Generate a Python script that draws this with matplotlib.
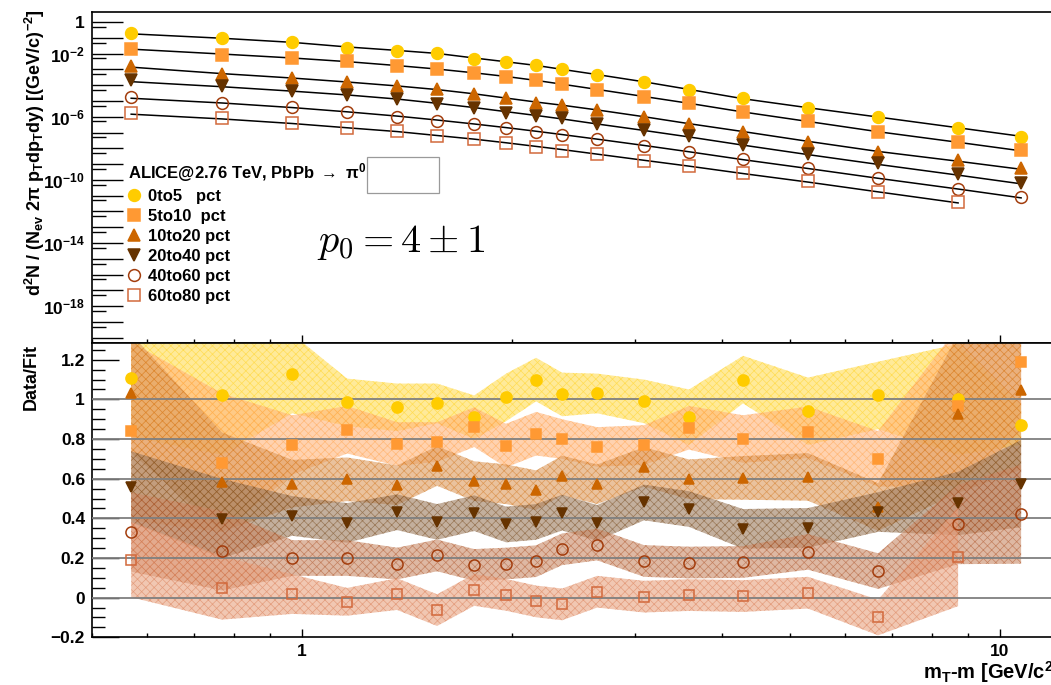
import numpy as np
import matplotlib
matplotlib.use('Agg')
import matplotlib.pyplot as plt
from matplotlib.patches import Rectangle

plt.rcParams['font.family'] = ['Liberation Sans', 'DejaVu Sans']
plt.rcParams['font.weight'] = 'bold'
plt.rcParams['mathtext.fontset'] = 'custom'
plt.rcParams['mathtext.rm'] = 'Liberation Sans:bold'
plt.rcParams['mathtext.it'] = 'Liberation Sans:bold'
plt.rcParams['mathtext.bf'] = 'Liberation Sans:bold'
plt.rcParams['hatch.linewidth'] = 0.5

W, H = 1051, 685

# m_T - m bin centres [GeV/c^2]
mt = [0.569, 0.768, 0.968, 1.160, 1.368, 1.561, 1.764, 1.960, 2.164, 2.358,
      2.647, 3.090, 3.584, 4.283, 5.307, 6.688, 8.708, 10.72]

# spectra, log10 of d2N/(Nev 2pi pT dpT dy)
spec_0to5 = [-0.72, -1.03, -1.25, -1.63, -1.82, -1.98, -2.32, -2.53, -2.72, -3.00,
             -3.33, -3.80, -4.30, -4.83, -5.46, -6.01, -6.71, -7.28]
spec_5to10 = [-1.73, -2.09, -2.30, -2.47, -2.78, -3.00, -3.21, -3.48, -3.69, -3.94,
              -4.28, -4.73, -5.13, -5.70, -6.28, -6.98, -7.61, -8.12]
spec_10to20 = [-2.78, -3.31, -3.56, -3.78, -4.05, -4.26, -4.58, -4.83, -5.11, -5.25,
               -5.57, -5.99, -6.46, -6.94, -7.57, -8.25, -8.73, -9.26]
spec_20to40 = [-3.67, -4.05, -4.35, -4.62, -4.85, -5.21, -5.42, -5.74, -5.95, -6.08,
               -6.46, -6.84, -7.23, -7.78, -8.37, -8.94, -9.64, -10.17]
spec_40to60 = [-4.77, -5.11, -5.40, -5.72, -5.99, -6.25, -6.48, -6.71, -6.94, -7.13,
               -7.41, -7.83, -8.23, -8.69, -9.22, -9.89, -10.55, -11.09]
spec_60to80 = [-5.78, -6.06, -6.41, -6.73, -6.92, -7.22, -7.42, -7.68, -7.91, -8.14,
               -8.37, -8.78, -9.09, -9.56, -10.08, -10.78, -11.41]

# fit curves (log10)
fit_0to5 = [-0.75, -1.03, -1.29, -1.58, -1.80, -1.99, -2.28, -2.52, -2.75, -3.00,
            -3.33, -3.79, -4.27, -4.86, -5.43, -6.02, -6.70, -7.24]
fit_5to10 = [-1.72, -2.03, -2.28, -2.51, -2.76, -2.98, -3.22, -3.45, -3.70, -3.94,
             -4.27, -4.72, -5.15, -5.70, -6.30, -6.95, -7.62, -8.16]
fit_10to20 = [-2.86, -3.27, -3.55, -3.80, -4.05, -4.28, -4.55, -4.82, -5.07, -5.27,
              -5.57, -6.00, -6.44, -6.94, -7.56, -8.20, -8.82, -9.33]
fit_20to40 = [-3.78, -4.10, -4.38, -4.62, -4.88, -5.15, -5.42, -5.68, -5.92, -6.14,
              -6.46, -6.87, -7.28, -7.80, -8.40, -9.02, -9.70, -10.25]
fit_40to60 = [-4.83, -5.13, -5.42, -5.69, -5.96, -6.21, -6.46, -6.69, -6.92, -7.13,
              -7.42, -7.82, -8.22, -8.72, -9.28, -9.90, -10.58, -11.14]
fit_60to80 = [-5.84, -6.14, -6.43, -6.70, -6.94, -7.19, -7.42, -7.65, -7.88, -8.08,
              -8.37, -8.76, -9.13, -9.60, -10.14, -10.76, -11.46]

# Data/Fit (shifted down by 0.2 per class)
ratio_0to5 = [1.11, 1.02, 1.13, 0.985, 0.96, 0.98, 0.91, 1.01, 1.10, 1.025,
              1.03, 0.99, 0.91, 1.10, 0.94, 1.02, 1.00, 0.87]
ratio_5to10 = [0.84, 0.68, 0.77, 0.847, 0.775, 0.785, 0.86, 0.767, 0.827, 0.80,
               0.76, 0.77, 0.857, 0.80, 0.834, 0.70, 0.965, 1.19]
ratio_10to20 = [1.03, 0.583, 0.575, 0.597, 0.567, 0.664, 0.588, 0.572, 0.542, 0.616,
                0.572, 0.659, 0.597, 0.604, 0.609, 0.457, 0.928, 1.045]
ratio_20to40 = [0.558, 0.399, 0.412, 0.377, 0.431, 0.382, 0.426, 0.369, 0.382, 0.429,
                0.377, 0.48, 0.447, 0.347, 0.352, 0.432, 0.475, 0.575]
ratio_40to60 = [0.331, 0.236, 0.20, 0.20, 0.172, 0.213, 0.165, 0.172, 0.184, 0.244,
                0.268, 0.185, 0.177, 0.18, 0.231, 0.134, 0.369, 0.421]
ratio_60to80 = [0.192, 0.049, 0.018, -0.021, 0.018, -0.063, 0.039, 0.014, -0.019, -0.034,
                0.03, 0.005, 0.013, 0.008, 0.025, -0.10, 0.207]

err_0to5 = [0.30, 0.30, 0.20, 0.12, 0.12, 0.10, 0.11, 0.12, 0.11, 0.11,
            0.10, 0.11, 0.14, 0.12, 0.17, 0.17, 0.28, 0.10]
err_5to10 = [0.45, 0.35, 0.15, 0.12, 0.11, 0.10, 0.10, 0.11, 0.11, 0.10,
             0.10, 0.10, 0.11, 0.12, 0.13, 0.14, 0.40, 0.35]
err_10to20 = [0.30, 0.25, 0.12, 0.11, 0.10, 0.10, 0.10, 0.10, 0.10, 0.10,
              0.10, 0.10, 0.10, 0.11, 0.12, 0.12, 0.40, 0.40]
err_20to40 = [0.18, 0.20, 0.10, 0.10, 0.09, 0.09, 0.09, 0.09, 0.09, 0.09,
              0.09, 0.09, 0.09, 0.10, 0.10, 0.10, 0.16, 0.22]
err_40to60 = [0.20, 0.20, 0.09, 0.09, 0.08, 0.08, 0.08, 0.08, 0.08, 0.08,
              0.08, 0.08, 0.08, 0.08, 0.09, 0.09, 0.20, 0.25]
err_60to80 = [0.19, 0.16, 0.10, 0.07, 0.08, 0.08, 0.08, 0.08, 0.08, 0.08,
              0.08, 0.08, 0.08, 0.08, 0.08, 0.09, 0.25]

labels = ['0to5   pct', '5to10  pct', '10to20 pct', '20to40 pct', '40to60 pct', '60to80 pct']
colors = ['#FFCC00', '#FF9933', '#CC6600', '#663300', '#A33D0D', '#D2693C']
band_colors = ['#FFDD55', '#FFB57A', '#DD9A5C', '#9C7A5C', '#C98A66', '#E8A280']
markers = ['o', 's', '^', 'v', 'o', 's']
filled = [True, True, True, True, False, False]
ref_levels = [0.0, 0.2, 0.4, 0.6, 0.8, 1.0]

specs = [spec_0to5, spec_5to10, spec_10to20, spec_20to40, spec_40to60, spec_60to80]
fits = [fit_0to5, fit_5to10, fit_10to20, fit_20to40, fit_40to60, fit_60to80]
ratios = [ratio_0to5, ratio_5to10, ratio_10to20, ratio_20to40, ratio_40to60, ratio_60to80]
errs = [err_0to5, err_5to10, err_10to20, err_20to40, err_40to60, err_60to80]

fig = plt.figure(figsize=(W / 100, H / 100), dpi=100)
x_right = 1055.3
ax1 = fig.add_axes([92 / W, 1 - 342.5 / H, (x_right - 92) / W, (342.5 - 11.7) / H])
ax2 = fig.add_axes([92 / W, 1 - 637.3 / H, (x_right - 92) / W, (637.3 - 342.5) / H])

handles = []
for i in range(6):
    n = len(specs[i])
    x = np.array(mt[:n])
    y = 10.0 ** np.array(specs[i])
    yf = 10.0 ** np.array(fits[i])
    r = np.array(ratios[i])
    e = np.array(errs[i])
    c = colors[i]
    mfc = c if filled[i] else 'none'
    ms = 8.5 if markers[i] == 'o' else 8
    ax1.plot(x, yf, color='black', lw=1.1, zorder=2)
    h, = ax1.plot(x, y, ls='none', marker=markers[i], ms=ms, mfc=mfc, mec=c,
                  mew=1.1, zorder=3)
    handles.append(h)
    ax2.fill_between(x, r - e, r + e,
                     facecolor=matplotlib.colors.to_rgba(band_colors[i], 0.6),
                     edgecolor=matplotlib.colors.to_rgba(c, 0.45),
                     hatch='xxxx', lw=0, zorder=1)
    ax2.plot(x, r, ls='none', marker=markers[i], ms=ms - 0.5, mfc=mfc, mec=c,
             mew=1.1, zorder=4)

for v in ref_levels:
    ax2.axhline(v, color='#7f7f7f', lw=1.3, zorder=3)

for ax in (ax1, ax2):
    ax.set_xscale('log')
    ax.set_xlim(0.5, 12)
    for s in ax.spines.values():
        s.set_linewidth(1.2)
    ax.spines['right'].set_visible(False)
    ax.set_xticks([1, 10], labels=['1', '10'])
    ax.set_xticks([0.5, 0.6, 0.7, 0.8, 0.9, 2, 3, 4, 5, 6, 7, 8, 9], minor=True)
    ax.xaxis.set_minor_formatter(matplotlib.ticker.NullFormatter())
    ax.tick_params(axis='x', which='major', direction='in', length=6, width=1.0,
                   top=False, labelsize=12.5, pad=5)
    ax.tick_params(axis='x', which='minor', direction='in', length=3, width=1.0, top=False)
    ax.tick_params(axis='y', which='both', direction='in', width=1.0, right=False,
                   labelsize=12.5, pad=5)

ax1.tick_params(axis='x', labelbottom=False)
ax1.set_yscale('log')
ax1.set_ylim(10 ** -20.28, 10 ** 0.652)
dec = list(range(-20, 1))
ylab_dec = [0, -2, -6, -10, -14, -18]
ax1.set_yticks([10.0 ** k for k in dec],
               labels=[('1' if k == 0 else r'10$^{%d}$' % k) if k in ylab_dec else '' for k in dec])
ax1.set_yticks([5 * 10.0 ** k for k in range(-21, 0)], minor=True)
ax1.yaxis.set_minor_formatter(matplotlib.ticker.NullFormatter())
ax1.tick_params(axis='y', which='major', length=22)
ax1.tick_params(axis='y', which='minor', length=10)

ax2.set_ylim(-0.198, 1.287)
ax2.set_yticks([-0.2, 0, 0.2, 0.4, 0.6, 0.8, 1.0, 1.2],
               labels=['\u22120.2', '0', '0.2', '0.4', '0.6', '0.8', '1', '1.2'])
ax2.set_yticks(np.arange(-0.2, 1.29, 0.05), minor=True)
ax2.tick_params(axis='y', which='major', length=19.5)
ax2.tick_params(axis='y', which='minor', length=9.5)

leg = ax1.legend(handles, labels, title=r'ALICE@2.76 TeV, PbPb $\rightarrow$ $\pi^{0}$',
                 loc='upper left', bbox_to_anchor=(128 / W, 1 - 161 / H),
                 bbox_transform=fig.transFigure, frameon=False, fontsize=12,
                 title_fontsize=12, handlelength=0.75, handletextpad=0.45,
                 borderpad=0, borderaxespad=0, labelspacing=0.3, numpoints=1,
                 alignment='left')

fig.patches.append(Rectangle((367 / W, 1 - 193 / H), 72 / W, 36 / H, transform=fig.transFigure,
                             fill=False, edgecolor='#9a9a9a', lw=0.9))

fig.text(401 / W, 1 - 242 / H, r'$\mathit{p}_{0} = 4 \pm 1$', fontsize=29,
         math_fontfamily='cm', ha='center', va='center', fontweight='normal')

fig.text(35 / W, 1 - 9 / H,
         r'd$^{2}$N / (N$_{ev}$ 2$\pi$ p$_{T}$dp$_{T}$dy) [(GeV/c)$^{-2}$]',
         rotation=90, ha='center', va='top', fontsize=13)
fig.text(31 / W, 1 - 344 / H, 'Data/Fit', rotation=90, ha='center', va='top', fontsize=13)
fig.text(923 / W, 1 - 672 / H, r'm$_{T}$-m [GeV/c$^{2}$]', ha='left', va='center',
         fontsize=14.5)

fig.savefig('out.png', dpi=100)
